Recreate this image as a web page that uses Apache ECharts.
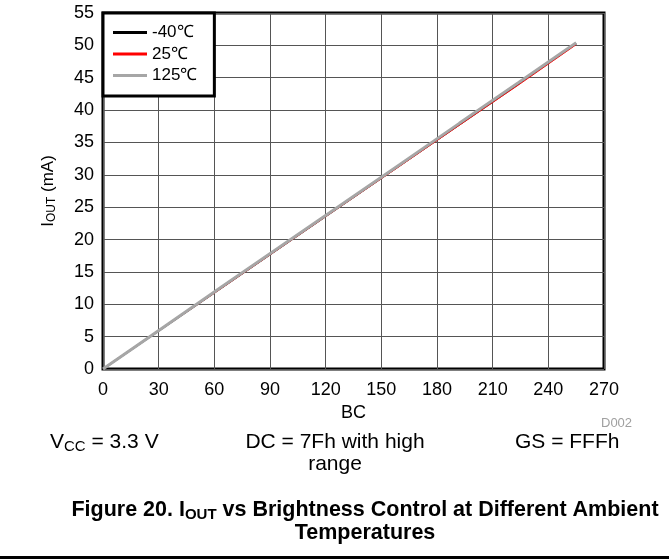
<!DOCTYPE html>
<html><head><meta charset="utf-8">
<script src="https://cdn.jsdelivr.net/npm/echarts@6/dist/echarts.min.js"></script>
<style>html,body{margin:0;padding:0;background:#fff}#c{width:669px;height:560px}</style>
</head><body><div id="c"></div>
<script>
const seriesNames = ['-40\u2103', '25\u2103', '125\u2103'];
const bc = [0, 32, 64, 96, 128, 160, 192, 224, 255];
const iM40 = [0, 6.3, 12.6, 18.9, 25.2, 31.5, 37.8, 44.1, 50.3];
const i25 = [0, 6.25, 12.5, 18.8, 25.1, 31.35, 37.65, 43.9, 50.1];
const i125 = [0, 6.35, 12.7, 19.0, 25.3, 31.6, 37.95, 44.25, 50.4];
const xTicks = [0, 30, 60, 90, 120, 150, 180, 210, 240, 270];
const yTicks = [0, 5, 10, 15, 20, 25, 30, 35, 40, 45, 50, 55];
const colors = ['#000000', '#ff0000', '#a6a6a6'];

const F = 'Liberation Sans, Arial, sans-serif';
const chart = echarts.init(document.getElementById('c'));
function pts(y) { return bc.map((x, i) => [x, y[i]]); }
const vals = [iM40, i25, i125];
const widths = [2, 1, 3];
const order = [0, 2, 1];
chart.setOption({
  animation: false,
  textStyle: { fontFamily: F },
  grid: { left: 103, right: 65, top: 13, bottom: 191, show: true, borderColor: '#000', borderWidth: 3, containLabel: false },
  legend: {
    left: 103, top: 13, orient: 'vertical', icon: 'rect', itemWidth: 34, itemHeight: 3,
    itemGap: 4.5, itemTextGap: 12, padding: [11, 17, 12, 10],
    borderColor: '#000', borderWidth: 3, backgroundColor: '#fff',
    textStyle: { fontSize: 17, color: '#000', fontFamily: F },
    data: seriesNames, z: 10
  },
  xAxis: {
    type: 'value', min: xTicks[0], max: xTicks[xTicks.length - 1], interval: 30,
    name: 'BC', nameLocation: 'middle', nameGap: 26,
    nameTextStyle: { fontSize: 18, color: '#000', fontFamily: F },
    axisLine: { show: false }, axisTick: { show: false },
    axisLabel: { fontSize: 18, color: '#000', margin: 12, fontFamily: F },
    splitLine: { show: true, lineStyle: { color: '#555', width: 1 } }
  },
  yAxis: {
    type: 'value', min: yTicks[0], max: yTicks[yTicks.length - 1], interval: 5,
    name: '{n|I}{s|OUT}{n| (mA)}', nameLocation: 'middle', nameGap: 45, nameRotate: 90,
    nameTextStyle: { color: '#000', fontFamily: F, rich: { n: { fontSize: 17, fontFamily: F, color: '#000' }, s: { fontSize: 12, fontFamily: F, color: '#000', padding: [7, 0, 0, 0] } } },
    axisLine: { show: false }, axisTick: { show: false },
    axisLabel: { fontSize: 18, color: '#000', margin: 9, fontFamily: F },
    splitLine: { show: true, lineStyle: { color: '#555', width: 1 } }
  },
  series: order.map(k => ({
    name: seriesNames[k], type: 'line', data: pts(vals[k]), showSymbol: false, symbol: 'none',
    lineStyle: { color: colors[k], width: widths[k] }, itemStyle: { color: colors[k] }, z: 3 + k
  })),
  graphic: [
    { type: 'text', x: 601, y: 423, style: { text: 'D002', fontSize: 13, fill: '#a0a0a0', fontFamily: F, verticalAlign: 'middle' } },
    { type: 'text', x: 50, y: 442, style: { text: '{n|V}{s|CC}{n| = 3.3 V}', fontFamily: F, verticalAlign: 'middle',
      rich: { n: { fontSize: 21, fill: '#000', fontFamily: F }, s: { fontSize: 15, fill: '#000', fontFamily: F, padding: [9, 0, 0, 0] } } } },
    { type: 'text', x: 335, y: 442, style: { text: 'DC = 7Fh with high\nrange', fontSize: 21, fill: '#000', fontFamily: F, align: 'center', verticalAlign: 'top', lineHeight: 22, padding: [-11, 0, 0, 0] } },
    { type: 'text', x: 515, y: 442, style: { text: 'GS = FFFh', fontSize: 21, fill: '#000', fontFamily: F, verticalAlign: 'middle' } },
    { type: 'text', x: 365, y: 499, style: { text: '{b|Figure 20. I}{s|OUT}{b| vs Brightness Control at Different Ambient}\n{b|Temperatures}', align: 'center', verticalAlign: 'top', fontFamily: F, lineHeight: 23,
      rich: { b: { fontSize: 21.5, fontWeight: 'bold', fill: '#000', fontFamily: F, align: 'center', lineHeight: 23 }, s: { fontSize: 15, fontWeight: 'bold', fill: '#000', fontFamily: F, padding: [8, 0, 0, 0] } } } },
    { type: 'rect', shape: { x: 0, y: 556, width: 669, height: 3 }, style: { fill: '#000' } }
  ]
});
</script></body></html>
